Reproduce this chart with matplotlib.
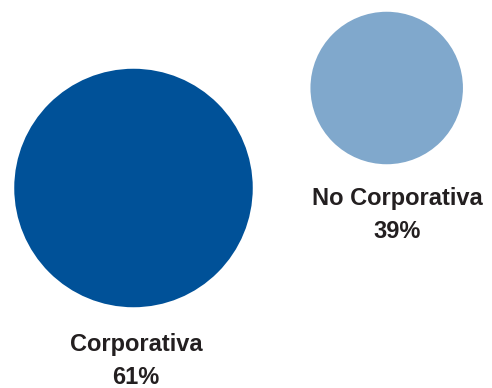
import matplotlib
matplotlib.use("Agg")
import matplotlib.pyplot as plt
from matplotlib.patches import Circle

categories = ["Corporativa", "No Corporativa"]
shares = [61, 39]
colors = ["#005198", "#80A8CC"]

# layout in pixel units
centers = [(133.5, 188.0), (386.7, 88.0)]
label_pos = [(136.0, 361.0), (397.5, 215.0)]
px_per_unit = 1.955

fig = plt.figure(figsize=(4.92, 3.88), dpi=100)
ax = fig.add_axes([0, 0, 1, 1])
ax.set_xlim(0, 492)
ax.set_ylim(388, 0)
ax.set_aspect("equal")
ax.axis("off")

for cat, val, col, c, lp in zip(categories, shares, colors, centers, label_pos):
    ax.add_patch(Circle(c, val * px_per_unit, facecolor=col, edgecolor="none"))
    ax.text(lp[0], lp[1], f"{cat}\n{val}%", ha="center", va="center",
            fontsize=17, fontweight="bold", color="#231f20",
            family="Liberation Sans", linespacing=1.52)

fig.savefig("out.png", dpi=100)
